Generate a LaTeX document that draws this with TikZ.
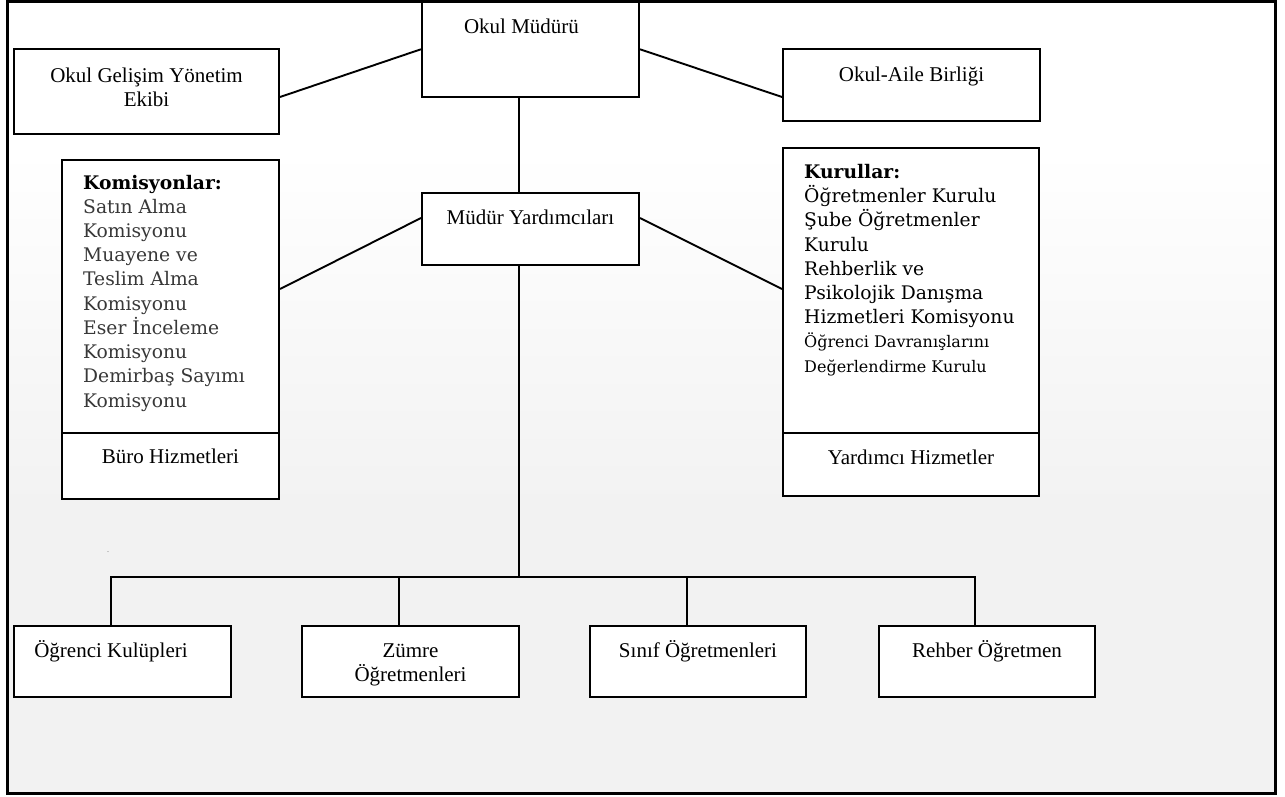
\documentclass[tikz,border=0pt]{standalone}
\usepackage{fontspec}
\setmainfont{Liberation Serif}
\newfontfamily\listfont{DejaVu Serif}
\newcommand\mylines[2]{\begin{tabular}[t]{@{}#1@{}}#2\end{tabular}}
\begin{document}
\begin{tikzpicture}[x=1pt,y=-1pt,
  box/.style={draw,line width=2pt,fill=white,inner sep=0pt},
  con/.style={line width=1.9pt},
  lbl/.style={inner sep=0pt,anchor=base,font=\fontsize{21}{24}\selectfont},
  lst/.style={inner sep=0pt,anchor=base west,font=\listfont\fontsize{18.7}{24.2}\selectfont},
]
\useasboundingbox (0,0) rectangle (1285,796);
\fill[white] (0,0) rectangle (1285,796);
\shade[top color=white,bottom color=black!5] (7,150) rectangle (1275,500);
\fill[black!5] (7,500) rectangle (1275,793);
\draw[line width=3pt] (7,1.5) rectangle (1275,793);

% boxes
\node[box,minimum width=217pt,minimum height=95.5pt] (mud) at (530.5,49.25) {};
\node[box,minimum width=265pt,minimum height=85pt] (ogye) at (146.5,91.5) {};
\node[box,minimum width=257pt,minimum height=72pt] (oab) at (911.5,85) {};
\node[box,minimum width=217pt,minimum height=72pt] (my) at (530.5,229) {};
\node[box,minimum width=217pt,minimum height=339pt] (kom) at (170.5,329.5) {};
\node[box,minimum width=256pt,minimum height=348pt] (kur) at (911,322) {};
\node[box,minimum width=217pt,minimum height=71pt] (b1) at (122.5,661.5) {};
\node[box,minimum width=217pt,minimum height=71pt] (b2) at (410.5,661.5) {};
\node[box,minimum width=216pt,minimum height=71pt] (b3) at (698,661.5) {};
\node[box,minimum width=216pt,minimum height=71pt] (b4) at (987,661.5) {};

% dividers
\draw[line width=2pt] (kom.west |- 0,433) -- (kom.east |- 0,433);
\draw[line width=2pt] (kur.west |- 0,433) -- (kur.east |- 0,433);

% connectors
\coordinate (bar) at (519,577);
\draw[con] ([yshift=-5.5pt]ogye.east) -- (mud.west);
\draw[con] (mud.east) -- ([yshift=-12pt]oab.west);
\draw[con] ([xshift=-11.5pt]mud.south) -- ([xshift=-11.5pt]my.north);
\draw[con] ([yshift=40.5pt]kom.east) -- ([yshift=11pt]my.west);
\draw[con] ([yshift=11pt]my.east) -- ([yshift=33pt]kur.west);
\draw[con] ([xshift=-11.5pt]my.south) -- (bar);
\draw[con] ([xshift=-11.5pt]b1.north) |- (bar);
\draw[con] ([xshift=-12pt]b4.north) |- (bar);
\draw[con] ([xshift=-11.5pt]b2.north) -- ([xshift=-11.5pt]b2.north |- bar);
\draw[con] ([xshift=-11pt]b3.north) -- ([xshift=-11pt]b3.north |- bar);

% texts
\node[lbl] (tmud) at (521.5,33) {Okul Müdürü};
\node[lbl] (togye) at (146.5,82) {\mylines{c}{Okul Gelişim Yönetim\\Ekibi}};
\node[lbl] (toab) at (911.5,81) {Okul-Aile Birliği};
\node[lbl] (tmy) at (530.5,224) {Müdür Yardımcıları};
\node[lst] (tkom) at (83,189) {\mylines{l}{\textbf{Komisyonlar:}\\
  \color{black!78}Satın Alma\\
  \color{black!78}Komisyonu\\
  \color{black!78}Muayene ve\\
  \color{black!78}Teslim Alma\\
  \color{black!78}Komisyonu\\
  \color{black!78}Eser İnceleme\\
  \color{black!78}Komisyonu\\
  \color{black!78}Demirbaş Sayımı\\
  \color{black!78}Komisyonu}};
\node[lbl] (tburo) at (170.5,463) {Büro Hizmetleri};
\node[lst] (tkur) at (804,178) {\mylines{l}{\textbf{Kurullar:}\\
  Öğretmenler Kurulu\\
  Şube Öğretmenler\\
  Kurulu\\
  Rehberlik ve\\
  Psikolojik Danışma\\
  Hizmetleri Komisyonu\\
  {\fontsize{16}{24.2}\selectfont Öğrenci Davranışlarını}\\
  {\fontsize{16}{24.2}\selectfont Değerlendirme Kurulu}}};
\node[lbl] (tyar) at (911,464) {Yardımcı Hizmetler};
\node[lbl] (t1) at (111,657) {Öğrenci Kulüpleri};
\node[lbl] (t2) at (410.5,657) {\mylines{c}{Zümre\\Öğretmenleri}};
\node[lbl] (t3) at (698,657) {Sınıf Öğretmenleri};
\node[lbl] (t4) at (987,657) {Rehber Öğretmen};
\node[inner sep=0pt,anchor=base,font=\fontsize{8}{8}\selectfont,text=black!60] (dot) at (108,552) {.};
\end{tikzpicture}
\end{document}
